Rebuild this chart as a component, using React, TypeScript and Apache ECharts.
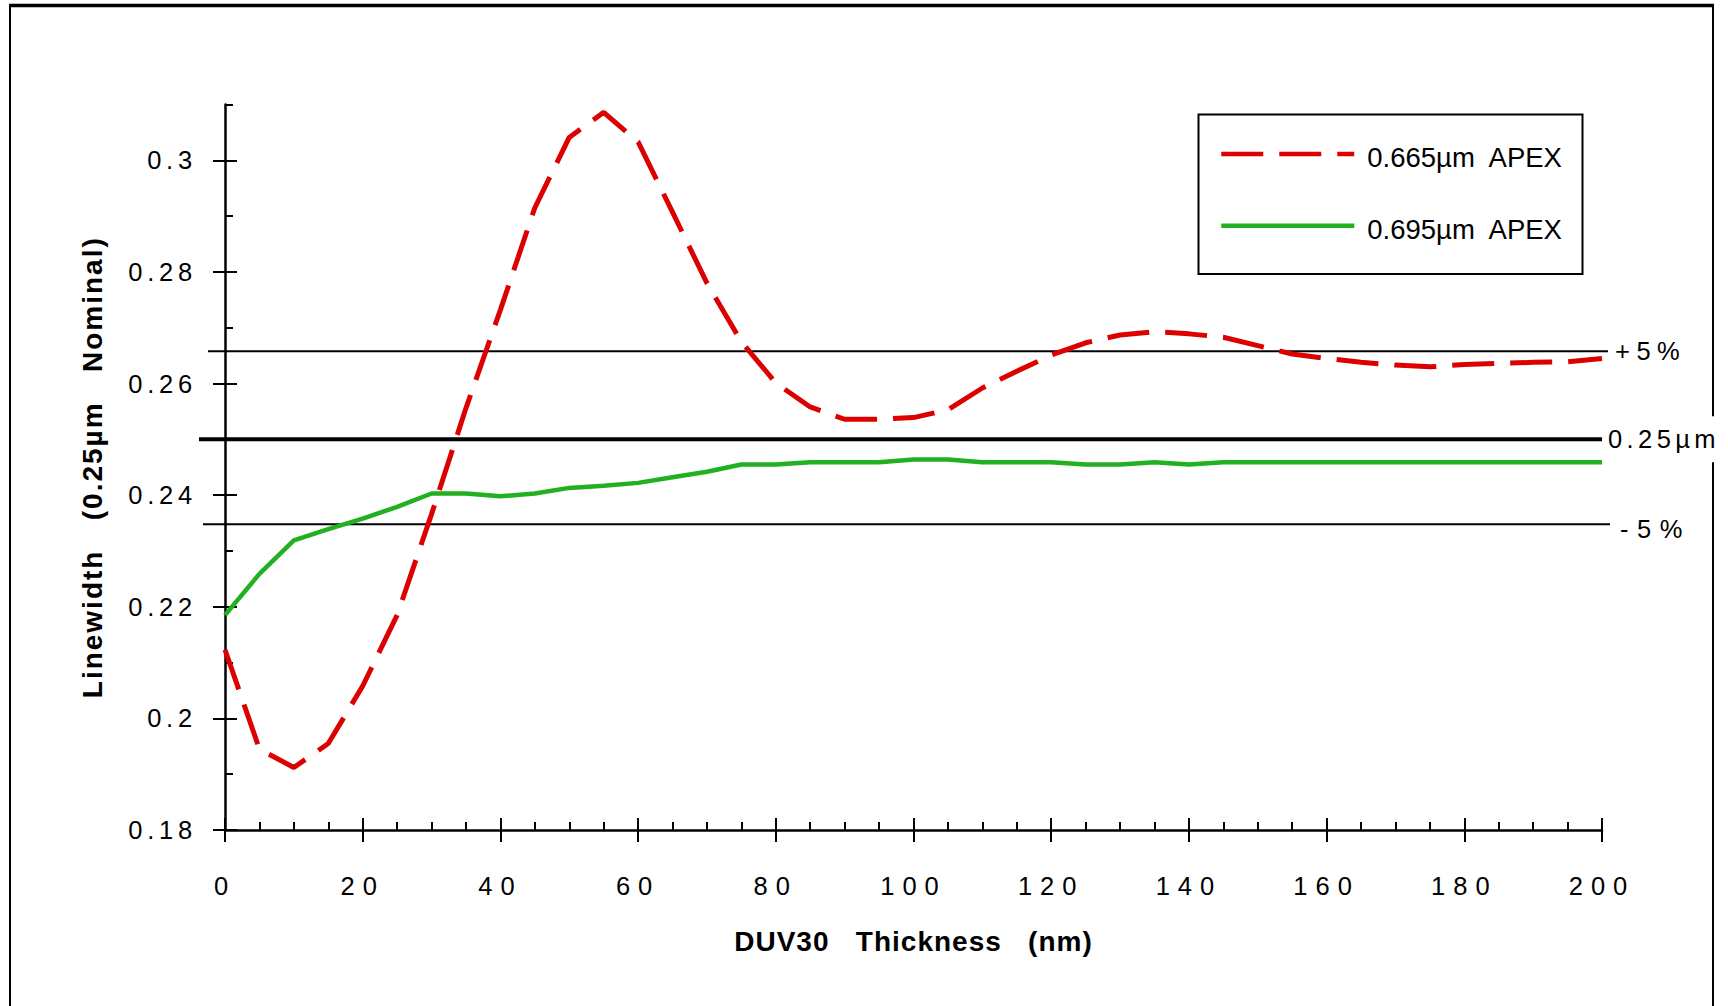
import React, { useEffect, useRef } from 'react';
import * as echarts from 'echarts';

// ---------- data ----------
const thickness = [0, 5, 10, 15, 20, 25, 30, 35, 40, 45, 50, 55, 60, 65, 70, 75, 80, 85, 90, 95, 100,
  105, 110, 115, 120, 125, 130, 135, 140, 145, 150, 155, 160, 165, 170, 175, 180, 185, 190, 195, 200];
const apex665 = [0.2123, 0.1945, 0.1912, 0.1955, 0.2058, 0.2185, 0.2366, 0.2556, 0.2732, 0.2915, 0.3041,
  0.3086, 0.3033, 0.2907, 0.278, 0.2675, 0.2601, 0.2558, 0.2536, 0.2536, 0.2539,
  0.2553, 0.2592, 0.2622, 0.2651, 0.2673, 0.2687, 0.2693, 0.2689, 0.2683, 0.2668,
  0.2653, 0.2645, 0.2638, 0.2633, 0.263, 0.2634, 0.2636, 0.2638, 0.2639, 0.2645];
const apex695 = [0.2185, 0.2259, 0.2319, 0.2339, 0.2358, 0.2379, 0.2403, 0.2403, 0.2398, 0.2403, 0.2413,
  0.2417, 0.2422, 0.2432, 0.2442, 0.2455, 0.2455, 0.2459, 0.2459, 0.2459, 0.2464,
  0.2464, 0.2459, 0.2459, 0.2459, 0.2455, 0.2455, 0.2459, 0.2455, 0.2459, 0.2459,
  0.2459, 0.2459, 0.2459, 0.2459, 0.2459, 0.2459, 0.2459, 0.2459, 0.2459, 0.2459];
const seriesNames = ['0.665µm  APEX', '0.695µm  APEX'];

const xMin = 0;
const xMax = 200;
const xMajorStep = 20;
const xMinorStep = 5;

const yMin = 0.18;
const yMax = 0.31;
const yTickValues = [0.18, 0.2, 0.22, 0.24, 0.26, 0.28, 0.3];
const yTickLabels = ['0.18', '0.2', '0.22', '0.24', '0.26', '0.28', '0.3'];
const yMinorValues = [0.19, 0.21, 0.23, 0.25, 0.27, 0.29, 0.31];

const refValues = [0.2658, 0.25, 0.2348];
const refLabels = ['+5%', '0.25µm', '-5%'];

const xTitle = 'DUV30   Thickness   (nm)';
const yTitle = 'Linewidth   (0.25µm   Nominal)';

// ---------- styles ----------
const RED = '#dd0000';
const GREEN = '#20b020';
const BASE = 'Liberation Sans';

const refStyles = [
  { w: 2, x0: -17, x1: 6, lx: 13, ly: 0, fam: BASE + ', lsRa', bg: 'transparent', pad: [0, 0, 0, 0] },
  { w: 4, x0: -26, x1: 0, lx: 4, ly: 0, fam: BASE + ', lsRb', bg: '#ffffff', pad: [10, 26, 10, 2] },
  { w: 2, x0: -22, x1: 8, lx: 18, ly: 5, fam: BASE + ', lsRc', bg: 'transparent', pad: [0, 0, 0, 0] },
];

const css = `
body { margin: 0; }
#chart text { white-space: pre; }
#chart text[style*="lsYT"], #chart text[font-family*="lsYT"] { letter-spacing: 4.8px; }
#chart text[style*="lsXT"], #chart text[font-family*="lsXT"] { letter-spacing: 8px; }
#chart text[style*="lsXN"], #chart text[font-family*="lsXN"] { letter-spacing: 1px; }
#chart text[style*="lsYN"], #chart text[font-family*="lsYN"] { letter-spacing: 2px; }
#chart text[style*="lsRa"], #chart text[font-family*="lsRa"] { letter-spacing: 6.5px; }
#chart text[style*="lsRb"], #chart text[font-family*="lsRb"] { letter-spacing: 4.4px; }
#chart text[style*="lsRc"], #chart text[font-family*="lsRc"] { letter-spacing: 8.5px; }
`;

const axisLineStyle = { color: '#000', width: 2.5 };
const tickLineStyle = { color: '#000', width: 2 };

export default function App() {
  const ref = useRef<HTMLDivElement>(null);

  useEffect(() => {
    if (!ref.current) return;
    const chart = echarts.init(ref.current, null, { renderer: 'svg' });

    const baseX = {
      type: 'value' as const,
      position: 'bottom' as const,
      min: xMin,
      max: xMax,
      splitLine: { show: false },
    };
    const baseY = {
      type: 'value' as const,
      position: 'left' as const,
      min: yMin,
      max: yMax,
      splitLine: { show: false },
    };

    const option: any = {
      animation: false,
      backgroundColor: '#ffffff',
      grid: { left: 225, right: 126, top: 104.5, bottom: 176, containLabel: false, outerBoundsMode: 'none' },
      graphic: [
        {
          type: 'rect', z: 0, silent: true,
          shape: { x: 10, y: 5.5, width: 1703, height: 1100 },
          style: { fill: 'none', stroke: '#000', lineWidth: 2 },
        },
        {
          type: 'line', z: 0, silent: true,
          shape: { x1: 9, y1: 5.5, x2: 1714, y2: 5.5 },
          style: { stroke: '#000', lineWidth: 3.5 },
        },
        {
          type: 'rect', z: 0, silent: true,
          shape: { x: 1198.5, y: 114.5, width: 384, height: 159.5 },
          style: { fill: 'none', stroke: '#000', lineWidth: 2 },
        },
      ],
      legend: {
        data: seriesNames,
        orient: 'vertical',
        left: 1219,
        top: 130,
        padding: 0,
        itemWidth: 133,
        itemHeight: 60,
        itemGap: 23.7,
        selectedMode: false,
        itemStyle: { opacity: 0 },
        lineStyle: { width: 4.5 },
        formatter: (name: string) => `{t|${name}}`,
        textStyle: {
          fontSize: 27.5,
          fontFamily: BASE,
          color: '#000',
          rich: {
            t: {
              fontSize: 27.5,
              fontFamily: BASE,
              color: '#000',
              padding: [7, 0, 0, 8],
            },
          },
        },
      },
      xAxis: [
        {
          ...baseX,
          interval: xMinorStep,
          axisLine: { show: true, onZero: false, lineStyle: axisLineStyle },
          axisTick: { show: true, inside: true, length: 8, lineStyle: tickLineStyle },
          axisLabel: { show: false },
        },
        {
          ...baseX,
          interval: xMajorStep,
          axisLine: { show: false, onZero: false },
          axisTick: { show: true, inside: true, length: 12, lineStyle: tickLineStyle },
          axisLabel: { show: false },
        },
        {
          ...baseX,
          interval: xMajorStep,
          axisLine: { show: false, onZero: false },
          axisTick: { show: true, inside: false, length: 12, lineStyle: tickLineStyle },
          axisLabel: {
            show: true, margin: 43, fontSize: 25.5, color: '#000', fontFamily: BASE + ', lsXT',
          },
          name: xTitle,
          nameLocation: 'middle',
          nameGap: 97,
          nameTextStyle: { fontSize: 28, fontWeight: 'bold', color: '#000', fontFamily: BASE + ', lsXN' },
        },
      ],
      yAxis: [
        {
          ...baseY,
          axisLine: { show: true, onZero: false, lineStyle: axisLineStyle },
          axisTick: { show: true, inside: true, length: 8, lineStyle: tickLineStyle, customValues: yMinorValues },
          axisLabel: { show: false },
        },
        {
          ...baseY,
          axisLine: { show: false, onZero: false },
          axisTick: { show: true, inside: true, length: 12, lineStyle: tickLineStyle, customValues: yTickValues },
          axisLabel: { show: false },
        },
        {
          ...baseY,
          axisLine: { show: false, onZero: false },
          axisTick: { show: true, inside: false, length: 12, lineStyle: tickLineStyle, customValues: yTickValues },
          axisLabel: {
            show: true,
            customValues: yTickValues,
            margin: 28,
            fontSize: 25.5,
            color: '#000',
            fontFamily: BASE + ', lsYT',
            formatter: (v: number) => {
              const i = yTickValues.findIndex((t) => Math.abs(t - v) < 1e-9);
              return i >= 0 ? yTickLabels[i] : '';
            },
          },
          name: yTitle,
          nameLocation: 'middle',
          nameGap: 119,
          nameTextStyle: { fontSize: 28, fontWeight: 'bold', color: '#000', fontFamily: BASE + ', lsYN' },
        },
      ],
      series: [
        {
          type: 'custom',
          name: 'reference',
          xAxisIndex: 0,
          yAxisIndex: 0,
          silent: true,
          clip: false,
          z: 1,
          data: refValues.map((v) => [xMin, v]),
          renderItem: (params: any, api: any) => {
            const i = params.dataIndex;
            const v = api.value(1);
            const s = refStyles[i];
            const p0 = api.coord([xMin, v]);
            const p1 = api.coord([xMax, v]);
            return {
              type: 'group',
              children: [
                {
                  type: 'line',
                  shape: { x1: p0[0] + s.x0, y1: p0[1], x2: p1[0] + s.x1, y2: p1[1] },
                  style: { stroke: '#000', lineWidth: s.w },
                },
                {
                  type: 'text',
                  x: p1[0] + s.lx,
                  y: p1[1] + s.ly,
                  style: {
                    text: refLabels[i],
                    fill: '#000',
                    fontSize: 25.5,
                    fontFamily: s.fam,
                    align: 'left',
                    verticalAlign: 'middle',
                    backgroundColor: s.bg,
                    padding: s.pad,
                  },
                },
              ],
            };
          },
        },
        {
          type: 'line',
          name: seriesNames[1],
          xAxisIndex: 0,
          yAxisIndex: 0,
          data: thickness.map((x, i) => [x, apex695[i]]),
          symbol: 'none',
          z: 3,
          itemStyle: { color: GREEN },
          lineStyle: { color: GREEN, width: 4.5 },
        },
        {
          type: 'line',
          name: seriesNames[0],
          xAxisIndex: 0,
          yAxisIndex: 0,
          data: thickness.map((x, i) => [x, apex665[i]]),
          symbol: 'none',
          z: 4,
          itemStyle: { color: RED },
          lineStyle: { color: RED, width: 5, type: [42, 16] },
        },
      ],
    };

    chart.setOption(option);
    return () => chart.dispose();
  }, []);

  return (
    <>
      <style>{css}</style>
      <div id="chart" ref={ref} style={{ width: 1728, height: 1006 }} />
    </>
  );
}
